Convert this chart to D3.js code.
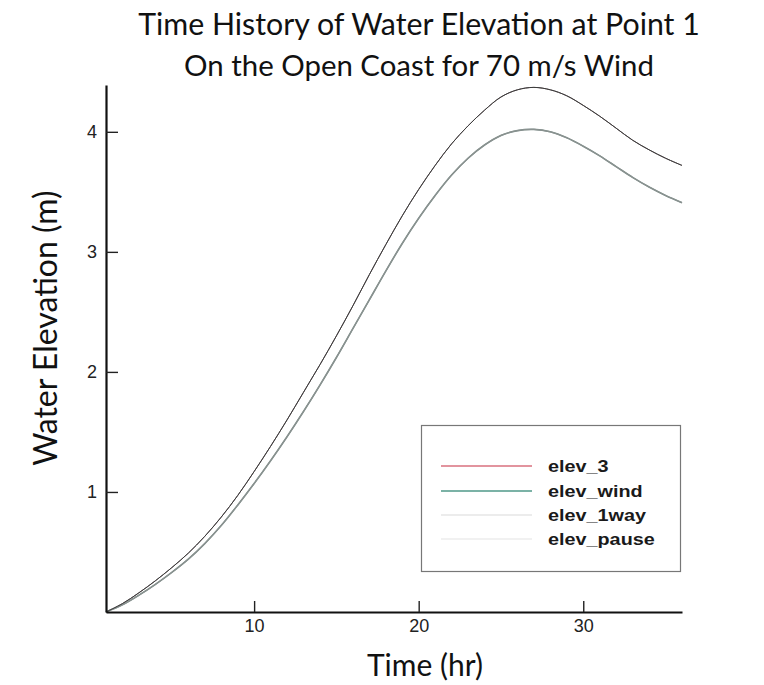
<!DOCTYPE html>
<html><head><meta charset="utf-8">
<script src="https://cdn.jsdelivr.net/npm/d3@7"></script>
<style>body{margin:0;background:#fff;} svg{display:block;}</style>
</head><body>
<script>
// ---- data ----
const timeHr = [1,2,3,4,5,6,7,8,9,10,11,12,13,14,15,16,17,18,19,20,21,22,23,24,25,26,27,28,29,30,31,32,33,34,35,36];
const elev3   = [0.00,0.07,0.16,0.26,0.37,0.49,0.63,0.79,0.97,1.17,1.38,1.60,1.83,2.06,2.30,2.55,2.81,3.06,3.30,3.52,3.72,3.90,4.05,4.18,4.29,4.35,4.37,4.35,4.30,4.22,4.13,4.03,3.93,3.85,3.78,3.72];
const elev1way= [0.00,0.07,0.16,0.26,0.37,0.49,0.63,0.79,0.97,1.17,1.38,1.60,1.83,2.06,2.30,2.55,2.81,3.06,3.30,3.52,3.72,3.90,4.05,4.18,4.29,4.35,4.37,4.35,4.30,4.22,4.13,4.03,3.93,3.85,3.78,3.72];
const elevWind= [0.00,0.06,0.14,0.23,0.33,0.44,0.57,0.72,0.89,1.07,1.26,1.46,1.67,1.89,2.12,2.36,2.60,2.84,3.07,3.28,3.47,3.64,3.78,3.89,3.97,4.01,4.02,4.00,3.95,3.88,3.80,3.71,3.62,3.54,3.47,3.41];
const elevPause=[0.00,0.06,0.14,0.23,0.33,0.44,0.57,0.72,0.89,1.07,1.26,1.46,1.67,1.89,2.12,2.36,2.60,2.84,3.07,3.28,3.47,3.64,3.78,3.89,3.97,4.01,4.02,4.00,3.95,3.88,3.80,3.71,3.62,3.54,3.47,3.41];
const seriesNames = ["elev_3","elev_wind","elev_1way","elev_pause"];
const seriesValues = [elev3, elevWind, elev1way, elevPause];
const xMajorTicks = [10,20,30];
const xMinorTicks = [2,4,6,8,12,14,16,18,22,24,26,28,32,34,36];
const yMajorTicks = [1,2,3,4];
const yMinorTicks = [0.2,0.4,0.6,0.8,1.2,1.4,1.6,1.8,2.2,2.4,2.6,2.8,3.2,3.4,3.6,3.8,4.2];
const titleLines = ["Time History of Water Elevation at Point 1","On the Open Coast for 70 m/s Wind"];

// ---- styles ----
const legendColors = ["#d9707e","#4f9888","#e6e6e6","#ececec"];
const plotColors   = ["#6a5a5e","#7d8c89","#3c3c3c","#8a9290"];
const plotWidths   = [1.0,1.6,1.0,1.2];
const drawOrder    = [0,1,3,2];

const W=764,H=685;
const svg=d3.select("body").append("svg").attr("width",W).attr("height",H);
const x=d3.scaleLinear().domain([1,36]).range([106,682]);
const y=d3.scaleLinear().domain([0,4.39]).range([612,85]);

// title
const title=svg.append("g").attr("font-family","Lato, 'Open Sans', sans-serif").attr("fill","#111");
const tl=[{t:titleLines[0],y:35,w:562},{t:titleLines[1],y:76,w:470}];
tl.forEach(d=>{
  const tx=title.append("text").attr("x",419).attr("y",d.y).attr("text-anchor","middle").attr("font-size",28).text(d.t);
  const len=tx.node().getComputedTextLength();
  tx.attr("font-size",28*d.w/len);
});

// lines
const line=d3.line().x((d,i)=>x(timeHr[i])).y(d=>y(d)).curve(d3.curveCatmullRom.alpha(0.5));
drawOrder.forEach(k=>{
  svg.append("path").datum(seriesValues[k]).attr("d",line).attr("fill","none")
    .attr("stroke",plotColors[k]).attr("stroke-width",plotWidths[k]);
});

// axes
const fontAx="'Liberation Sans', Arial, sans-serif";
const gx=svg.append("g").attr("transform","translate(0,612)");
gx.call(d3.axisBottom(x).tickValues(xMinorTicks).tickSizeInner(-6).tickSizeOuter(0).tickFormat(""));
gx.call(d3.axisBottom(x).tickValues(xMajorTicks).tickSizeInner(-11).tickSizeOuter(0).tickPadding(7));
gx.selectAll("text").attr("font-size",18).attr("font-family",fontAx).attr("fill","#222");
gx.selectAll(".domain").attr("stroke","#111").attr("stroke-width",2.2);
gx.selectAll(".tick line").attr("stroke","#222").attr("stroke-width",1.4);

const gy=svg.append("g").attr("transform","translate(106,0)");
gy.call(d3.axisLeft(y).tickValues(yMinorTicks).tickSizeInner(-7).tickSizeOuter(0).tickFormat(""));
gy.call(d3.axisLeft(y).tickValues(yMajorTicks).tickSizeInner(-12).tickSizeOuter(0).tickPadding(9).tickFormat(d3.format("d")));
gy.selectAll("text").attr("font-size",18).attr("font-family",fontAx).attr("fill","#222");
gy.selectAll(".domain").attr("stroke","#111").attr("stroke-width",2.2);
gy.selectAll(".tick line").attr("stroke","#222").attr("stroke-width",1.4);

// axis titles
svg.append("text").attr("x",425).attr("y",676).attr("text-anchor","middle")
  .attr("font-family","Lato, 'Open Sans', sans-serif").attr("font-size",30).attr("fill","#111").text("Time (hr)");
svg.append("text").attr("transform","translate(57,328) rotate(-90)").attr("text-anchor","middle")
  .attr("font-family","Lato, 'Open Sans', sans-serif").attr("font-size",32).attr("fill","#111").text("Water Elevation (m)");

// legend
const lg=svg.append("g");
lg.append("rect").attr("x",421.5).attr("y",425.5).attr("width",259).attr("height",146)
  .attr("fill","#fff").attr("stroke","#777").attr("stroke-width",1.2);
const rowsY=[466,491,515,539];
seriesNames.forEach((n,i)=>{
  lg.append("line").attr("x1",441).attr("x2",532).attr("y1",rowsY[i]).attr("y2",rowsY[i])
    .attr("stroke",legendColors[i]).attr("stroke-width",1.6);
  lg.append("text").attr("transform",`translate(548,${rowsY[i]+6}) scale(1.2,1)`)
    .attr("font-family",fontAx).attr("font-weight","bold").attr("font-size",16.5).attr("fill","#1a1a1a").text(n);
});
</script>
</body></html>
